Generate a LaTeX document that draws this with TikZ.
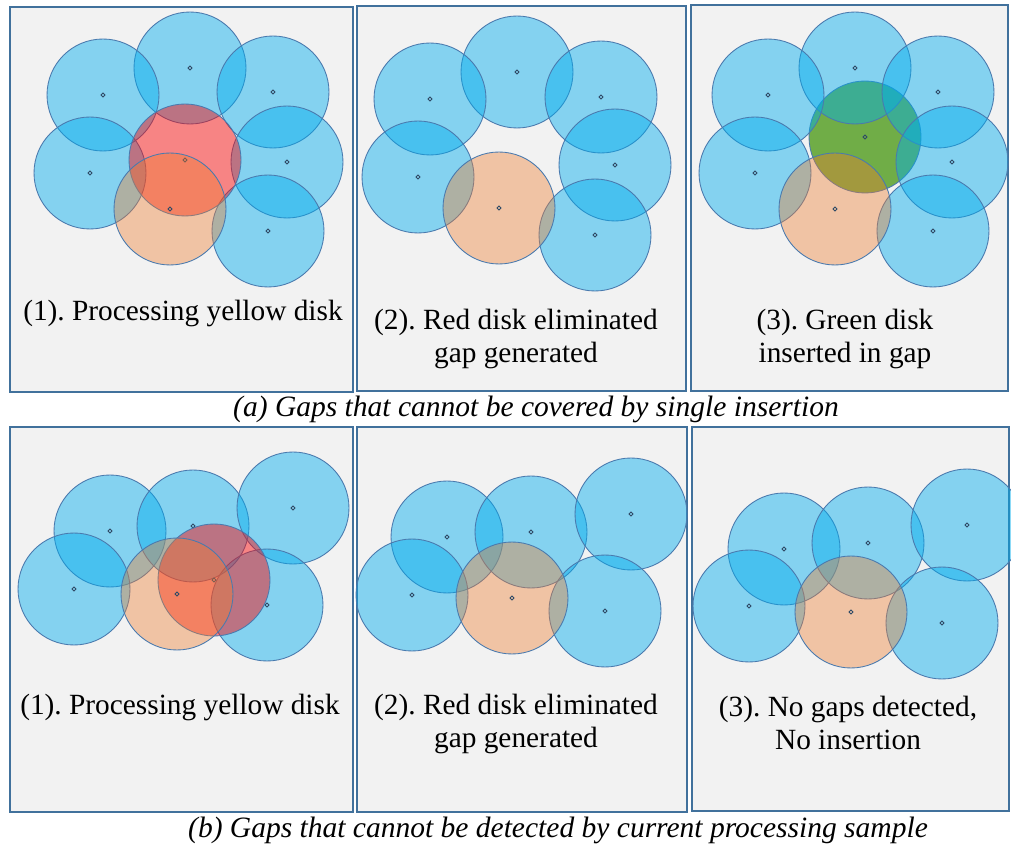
\documentclass[tikz,border=0pt]{standalone}
\usepackage{fontspec}
\newfontfamily\figfont{Liberation Serif}
\usepackage{tikz}
\usetikzlibrary{positioning}
\definecolor{panelbg}{HTML}{F2F2F2}
\definecolor{panelline}{HTML}{41719C}
\definecolor{diskblue}{HTML}{00ADEE}
\definecolor{diskline}{HTML}{4A7AAE}
\definecolor{diskred}{HTML}{FF0000}
\definecolor{diskorange}{HTML}{ED7D31}
\definecolor{diskgreen}{HTML}{70AD47}
\definecolor{dotcol}{HTML}{2F4A66}
\frenchspacing

\begin{document}
\begin{tikzpicture}[
    x=0.02cm, y=-0.02cm,
    panel/.style={draw=panelline, fill=panelbg, line width=0.8pt},
    disk/.style={circle, draw=diskline, line width=0.5pt, minimum size=2.24cm,
                 inner sep=0pt,
                 path picture={\draw[dotcol, line width=0.5pt]
                   (path picture bounding box.center) circle (1.1pt);}},
    bluedisk/.style={disk, fill=diskblue, fill opacity=0.45},
    reddisk/.style={disk, fill=diskred, fill opacity=0.45},
    orangedisk/.style={disk, fill=diskorange, fill opacity=0.4},
    greendisk/.style={disk, fill=diskgreen},
    lbl/.style={font=\figfont\fontsize{16.7}{19}\selectfont, align=center, text=black},
    captxt/.style={font=\figfont\itshape\fontsize{16.8}{19}\selectfont, text=black}
  ]
    \useasboundingbox (0,0) rectangle (1011,847);

    % panels
    \draw[panel] (10,7) rectangle (353,392);
    \draw[panel] (357,6) rectangle (686,391);
    \draw[panel] (691,5) rectangle (1008,391);
    \draw[panel] (10,427) rectangle (353,812);
    \draw[panel] (357,427) rectangle (687,812);
    \draw[panel] (692,427) rectangle (1009,811);

    % (a)(1)
    \node[bluedisk] (a1t)  at (190,68)  {};
    \node[bluedisk] (a1ul) at (103,95)  {};
    \node[bluedisk] (a1ur) at (273,92)  {};
    \node[bluedisk] (a1l)  at (90,173)  {};
    \node[bluedisk] (a1r)  at (287,162) {};
    \node[bluedisk] (a1lr) at (268,231) {};
    \node[reddisk] (a1red) at (185,160) {};
    \node[orangedisk] (a1yel) at (170,209) {};
    \node[lbl] (a1txt) at (183,313) {(1). Processing yellow disk};

    % (a)(2)
    \node[bluedisk] (a2t)  at (517,72)  {};
    \node[bluedisk] (a2ul) at (430,99)  {};
    \node[bluedisk] (a2ur) at (601,97)  {};
    \node[bluedisk] (a2l)  at (418,177) {};
    \node[bluedisk] (a2r)  at (615,165) {};
    \node[bluedisk] (a2lr) at (595,235) {};
    \node[orangedisk] (a2yel) at (499,208) {};
    \node[lbl] (a2txt) at (516,339) {(2). Red disk eliminated\\gap generated};

    % (a)(3)
    \node[greendisk] (a3grn) at (865,137) {};
    \node[bluedisk] (a3t)  at (855,68)  {};
    \node[bluedisk] (a3ul) at (768,95)  {};
    \node[bluedisk] (a3ur) at (938,92)  {};
    \node[bluedisk] (a3l)  at (755,173) {};
    \node[bluedisk] (a3r)  at (952,162) {};
    \node[bluedisk] (a3lr) at (933,231) {};
    \node[orangedisk] (a3yel) at (835,209) {};
    \node[lbl] (a3txt) at (845,339) {(3). Green disk\\inserted in gap};

    \node[captxt] (capa) at (536,409) {(a) Gaps that cannot be covered by single insertion};

    % (b)(1)
    \node[bluedisk] (b1ul) at (110,531) {};
    \node[bluedisk] (b1um) at (193,526) {};
    \node[bluedisk] (b1ur) at (293,508) {};
    \node[bluedisk] (b1l)  at (74,589)  {};
    \node[bluedisk] (b1lr) at (267,605) {};
    \node[reddisk] (b1red) at (214,580) {};
    \node[orangedisk] (b1yel) at (177,594) {};
    \node[lbl] (b1txt) at (180,707) {(1). Processing yellow disk};

    % (b)(2)
    \node[bluedisk] (b2ul) at (447,537) {};
    \node[bluedisk] (b2um) at (531,532) {};
    \node[bluedisk] (b2ur) at (631,514) {};
    \node[bluedisk] (b2l)  at (412,595) {};
    \node[bluedisk] (b2lr) at (605,611) {};
    \node[orangedisk] (b2yel) at (512,598) {};
    \node[lbl] (b2txt) at (516,724) {(2). Red disk eliminated\\gap generated};

    % (b)(3)
    \node[bluedisk] (b3ul) at (784,549) {};
    \node[bluedisk] (b3um) at (868,543) {};
    \node[bluedisk] (b3ur) at (967,525) {};
    \node[bluedisk] (b3l)  at (749,606) {};
    \node[bluedisk] (b3lr) at (942,623) {};
    \node[orangedisk] (b3yel) at (851,612) {};
    \node[lbl] (b3txt) at (848,723) {(3). No gaps detected,\\No insertion};

    \node[captxt] (capb) at (558,830) {(b) Gaps that cannot be detected by current processing sample};
  \end{tikzpicture}
\end{document}
